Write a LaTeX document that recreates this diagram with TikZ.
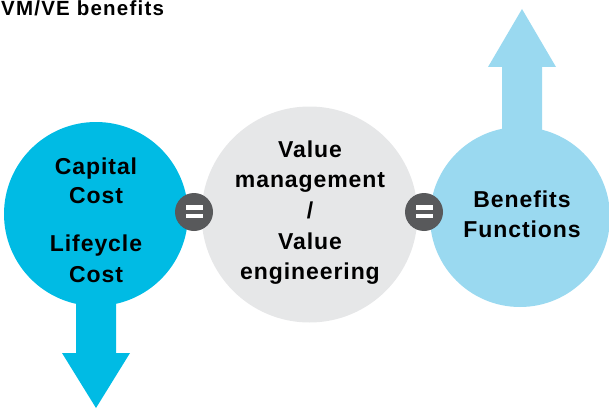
\documentclass[tikz,border=0pt]{standalone}
\usepackage{fontspec}
\setmainfont{Liberation Sans}
\usetikzlibrary{calc}
\definecolor{capblue}{RGB}{0,187,228}
\definecolor{benblue}{RGB}{154,217,240}
\definecolor{midgray}{RGB}{230,231,232}
\definecolor{eqgray}{RGB}{88,89,91}
\begin{document}
\begin{tikzpicture}[x=1pt,y=-1pt,
  txt/.style={font=\fontsize{23}{27}\selectfont\bfseries\addfontfeature{LetterSpace=4}, anchor=base, inner sep=0pt, text=black},
  ttl/.style={font=\fontsize{20.5}{24}\selectfont\bfseries\addfontfeature{LetterSpace=6}, anchor=base west, inner sep=0pt, text=black},
  bigc/.style={circle, inner sep=0pt, draw=none},
  eqc/.style={circle, fill=eqgray, minimum size=38pt, inner sep=0pt}]
\useasboundingbox (0,0) rectangle (609,409);
% title
\node[ttl] (title) at (1,16) {VM/VE benefits};
% arrows
\coordinate (downtip) at (96,408);
\coordinate (uptip) at (522,9);
\fill[capblue] (76,280) -- (76,353) -- (62,353) -- (downtip) -- (130,353) -- (116,353) -- (116,280) -- cycle;
\fill[benblue] (502,160) -- (502,67) -- (488,67) -- (uptip) -- (556,67) -- (542,67) -- (542,160) -- cycle;
% circles
\node[bigc, fill=capblue, minimum size=184pt] (cap) at (96,214) {};
\node[bigc, fill=midgray, minimum size=216pt] (mid) at (309.5,214.5) {};
\node[bigc, fill=benblue, minimum size=180pt] (ben) at (520,217) {};
% equal signs
\node[eqc] (eq1) at (194,212) {};
\node[eqc] (eq2) at (424,212) {};
\foreach \e in {eq1,eq2}{
  \fill[white] ($(\e)+(-8.5,-7)$) rectangle ($(\e)+(8.5,-2.5)$);
  \fill[white] ($(\e)+(-8.5,1.5)$) rectangle ($(\e)+(8.5,6)$);
}
% texts
\node[txt] (c1) at (96,174) {Capital};
\node[txt] (c2) at (96,203) {Cost};
\node[txt] (c3) at (96,251) {Lifeycle};
\node[txt] (c4) at (96,282) {Cost};
\node[txt] (m1) at (310,157) {Value};
\node[txt] (m2) at (310,187) {management};
\node[txt] (m3) at (310,218) {/};
\node[txt] (m4) at (310,249) {Value};
\node[txt] (m5) at (310,279) {engineering};
\node[txt] (b1) at (522,207) {Benefits};
\node[txt] (b2) at (522,237) {Functions};
\end{tikzpicture}
\end{document}
